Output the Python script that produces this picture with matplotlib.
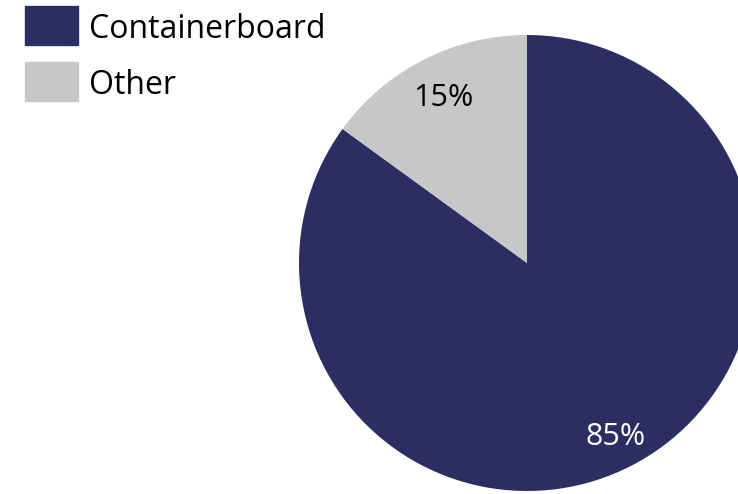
import numpy as np
import matplotlib.pyplot as plt
from matplotlib.patches import Rectangle

# share of sales by product
labels = ['Containerboard', 'Other']
shares = [85, 15]
colors = ['#2B2E63', '#C6C7C7']
pct_colors = ['white', 'black']
pct_dist = [0.855, 0.81]

plt.rcParams['font.family'] = ['Open Sans', 'DejaVu Sans']

fig = plt.figure(figsize=(7.38, 4.94), dpi=100)
ax = fig.add_axes([0, 0, 1, 1])

cx, cy, r = 527, 231, 228
wedges, texts, autotexts = ax.pie(
    shares, colors=colors, startangle=90, counterclock=False,
    center=(cx, cy), radius=r, autopct='%d%%',
    textprops={'fontsize': 22}, frame=True)
for w, t, c, d in zip(wedges, autotexts, pct_colors, pct_dist):
    ang = np.deg2rad((w.theta1 + w.theta2) / 2)
    t.set_position((cx + d * r * np.cos(ang), cy + d * r * np.sin(ang)))
    t.set_color(c)
ax.set_xlim(0, 738)
ax.set_ylim(0, 494)
ax.set_aspect('equal')
ax.axis('off')

# legend drawn by hand, top-left
for i, (lab, col) in enumerate(zip(labels, colors)):
    y = 449 - i * 56
    ax.add_patch(Rectangle((25, y), 53, 39, color=col, clip_on=False))
    ax.text(89, y + 7, lab, fontsize=23, va='baseline', ha='left')

fig.savefig('out.png', dpi=100)
